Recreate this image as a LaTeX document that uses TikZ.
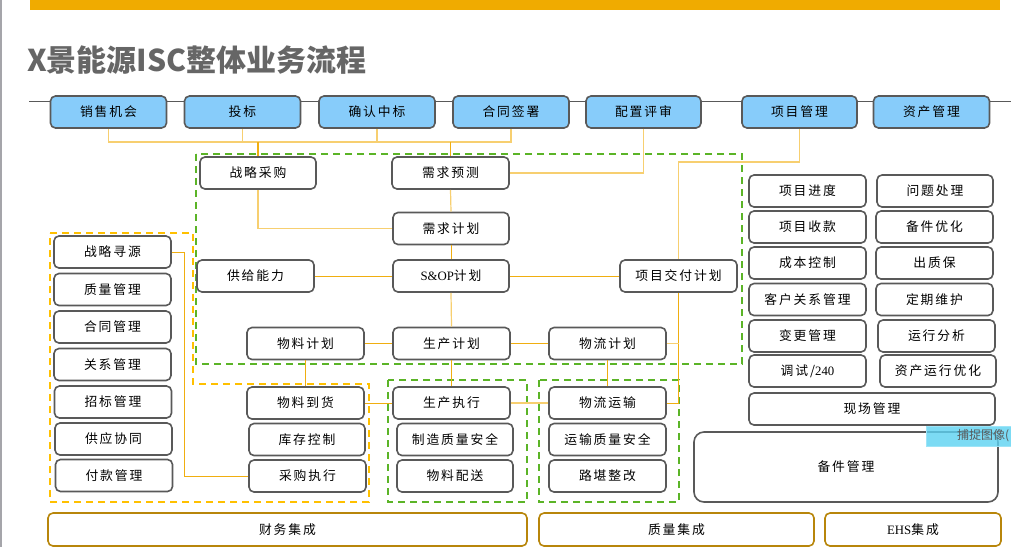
\documentclass[tikz,border=0pt]{standalone}
\usepackage{fontspec}
\setmainfont{Liberation Serif}
\newfontfamily\cjk[LetterSpace=15]{Noto Sans CJK SC}
\newfontfamily\cjkt{Noto Sans CJK SC}
\definecolor{skyb}{HTML}{87CCFA}
\definecolor{boxgray}{HTML}{595959}
\definecolor{lineor}{HTML}{F0AE10}
\definecolor{lineltor}{HTML}{F7CF70}
\definecolor{gdashc}{HTML}{5BB427}
\definecolor{odashc}{HTML}{FFC000}
\definecolor{goldc}{HTML}{B8860B}
\definecolor{titlegray}{HTML}{666666}
\definecolor{barc}{HTML}{F0AB00}
\definecolor{capc}{HTML}{5CD2F2}
\begin{document}
\begin{tikzpicture}[x=1pt,y=-1pt,
  box/.style={draw=boxgray, line width=1.6pt, rounded corners=5pt, fill=white,
    minimum height=32pt, minimum width=117pt, inner sep=0pt,
    font=\cjk\fontsize{12.8}{14}\selectfont, text=black},
  bluebox/.style={box, fill=skyb, minimum width=116pt},
  basebox/.style={box, draw=goldc, minimum height=33pt},
  conn/.style={draw=lineor, line width=1pt},
  connlt/.style={draw=lineltor, line width=1.2pt},
  connth/.style={draw=lineor, line width=1.8pt},
  gdash/.style={draw=gdashc, line width=2.2pt, dash pattern=on 7pt off 5pt},
  odash/.style={draw=odashc, line width=2.2pt, dash pattern=on 7pt off 5pt}]
\useasboundingbox (0,0) rectangle (1011,547);
\fill[white] (0,0) rectangle (1011,547);
\draw[color={rgb,255:red,165;green,165;blue,170}, line width=2pt] (1,0) -- (1,547);
% top bar and title
\fill[barc] (30,0) rectangle (1000,10);
\node[anchor=base west, inner sep=0pt, text=titlegray, font=\cjkt\bfseries\fontsize{30}{32}\selectfont] (title) at (27,71) {X景能源ISC整体业务流程};
% base gray line
\coordinate (gl0) at (29,101);
\coordinate (gl1) at (1011,101);
\draw[boxgray, line width=0.9pt] (gl0) -- (gl1);
% dashed regions
\draw[gdash] (196,154) rectangle (742,364);
\draw[gdash] (388,380) rectangle (527,502);
\draw[gdash] (539,380) rectangle (679,502);
\draw[odash] (50,233) -- (193,233) -- (193,384) -- (369,384) -- (369,502) -- (50,502) -- cycle;
% top row
\node[bluebox] (s1) at (108.5,112) {销售机会};
\node[bluebox] (s2) at (242.5,112) {投标};
\node[bluebox] (s3) at (377,112) {确认中标};
\node[bluebox] (s4) at (511,112) {合同签署};
\node[bluebox, minimum width=115pt] (s5) at (643.5,112) {配置评审};
\node[bluebox, minimum width=115pt] (s6) at (799.5,112) {项目管理};
\node[bluebox] (s7) at (931.5,112) {资产管理};
% left column
\node[box] (l1) at (112.5,252) {战略寻源};
\node[box] (l2) at (112.5,289.5) {质量管理};
\node[box] (l3) at (112.5,327) {合同管理};
\node[box] (l4) at (112.5,364.5) {关系管理};
\node[box] (l5) at (113,402) {招标管理};
\node[box] (l6) at (113.5,439) {供应协同};
\node[box] (l7) at (114,475.5) {付款管理};
% middle
\node[box, minimum width=116pt] (c1) at (258,173) {战略采购};
\node[box] (c2) at (450.5,173) {需求预测};
\node[box, minimum width=116pt] (c3) at (451,228.5) {需求计划};
\node[box] (c4) at (255.5,276) {供给能力};
\node[box, minimum width=116pt] (c5) at (451,276) {{\rmfamily S\&OP}计划};
\node[box] (c6) at (678.5,276) {项目交付计划};
\node[box] (m1) at (305.5,343.5) {物料计划};
\node[box] (m2) at (451.5,343.5) {生产计划};
\node[box] (m3) at (607.5,343.5) {物流计划};
\node[box] (p1) at (305.5,403) {物料到货};
\node[box, minimum width=116pt] (p2) at (307,439.5) {库存控制};
\node[box] (p3) at (307.5,476) {采购执行};
\node[box] (q1) at (451.5,403) {生产执行};
\node[box, minimum width=116pt] (q2) at (455,439.5) {制造质量安全};
\node[box, minimum width=116pt] (q3) at (455,476) {物料配送};
\node[box] (w1) at (607.5,403) {物流运输};
\node[box] (w2) at (607.5,439.5) {运输质量安全};
\node[box] (w3) at (607.5,476) {路堪整改};
% right
\node[box] (r1) at (807.5,191) {项目进度};
\node[box] (r2) at (807.5,227) {项目收款};
\node[box] (r3) at (807.5,263) {成本控制};
\node[box] (r4) at (807.5,299.5) {客户关系管理};
\node[box] (r5) at (807.5,336) {变更管理};
\node[box] (r6) at (807.5,371) {调试/{\rmfamily 240}};
\node[box, minimum width=116pt] (t1) at (935,191) {问题处理};
\node[box] (t2) at (934.5,227) {备件优化};
\node[box] (t3) at (934.5,263) {出质保};
\node[box] (t4) at (934.5,299.5) {定期维护};
\node[box] (t5) at (936.5,336) {运行分析};
\node[box, minimum width=116pt] (t6) at (938,371) {资产运行优化};
\node[box, minimum width=246pt] (r7) at (872,409) {现场管理};
\node[box, minimum width=304pt, minimum height=70pt, rounded corners=10pt] (r8) at (846,467) {备件管理};
% bottom
\node[basebox, minimum width=479pt] (b1) at (287.5,529.5) {财务集成};
\node[basebox, minimum width=275pt] (b2) at (676.5,529.5) {质量集成};
\node[basebox, minimum width=176pt] (b3) at (913,529.5) {{\rmfamily EHS}集成};
% connectors
\coordinate (hy) at (0,142);
\draw[connlt] (s1.south) |- (s4.south |- hy) -- (s4.south);
\draw[connlt] (s2.south) -- (s2.south |- hy);
\draw[connlt] (s3.south) -- (s3.south |- hy);
\draw[connth] (c1.north |- hy) -- (c1.north);
\draw[connth] (c2.north |- hy) -- (c2.north);
\draw[connlt] (s5.south) |- (c2.east);
\coordinate (pmturn) at (678.5,162);
\draw[connlt] (s6.south) |- (pmturn) -- (c6.north);
\draw[connlt] (c1.south) |- (c3.west);
\draw[connlt] (c2.south) -- (c3.north);
\draw[conn] (c3.south) -- (c5.north);
\draw[conn] (c4.east) -- (c5.west);
\draw[conn] (c5.east) -- (c6.west);
\draw[connlt] (c5.south) -- (m2.north);
\draw[conn] (m1.east) -- (m2.west);
\draw[conn] (m2.east) -- (m3.west);
\draw[conn] (m1.south) -- (p1.north);
\draw[conn] (m2.south) -- (q1.north);
\draw[conn] (m3.south) -- (w1.north);
\draw[conn] (p1.east) -- (q1.west);
\draw[connlt] (q1.east) -- (w1.west);
\draw[conn] (c6.south) |- (w1.east);
\draw[connlt] (m3.east) -- (m3.east -| c6.south);
\draw[conn] (l1.east) -- ++(12.5,0) |- (p3.west);
% screen-capture label overlay
\node[fill=capc, fill opacity=0.8, draw=capc!60!white, line width=0.8pt, minimum width=85pt, minimum height=20pt, inner sep=0pt] (cap) at (968.5,436) {};
\node[anchor=west, inner sep=0pt, text=boxgray, font=\cjkt\fontsize{12}{12}\selectfont] (captext) at (957,435.5) {捕捉图像(};
\end{tikzpicture}
\end{document}
